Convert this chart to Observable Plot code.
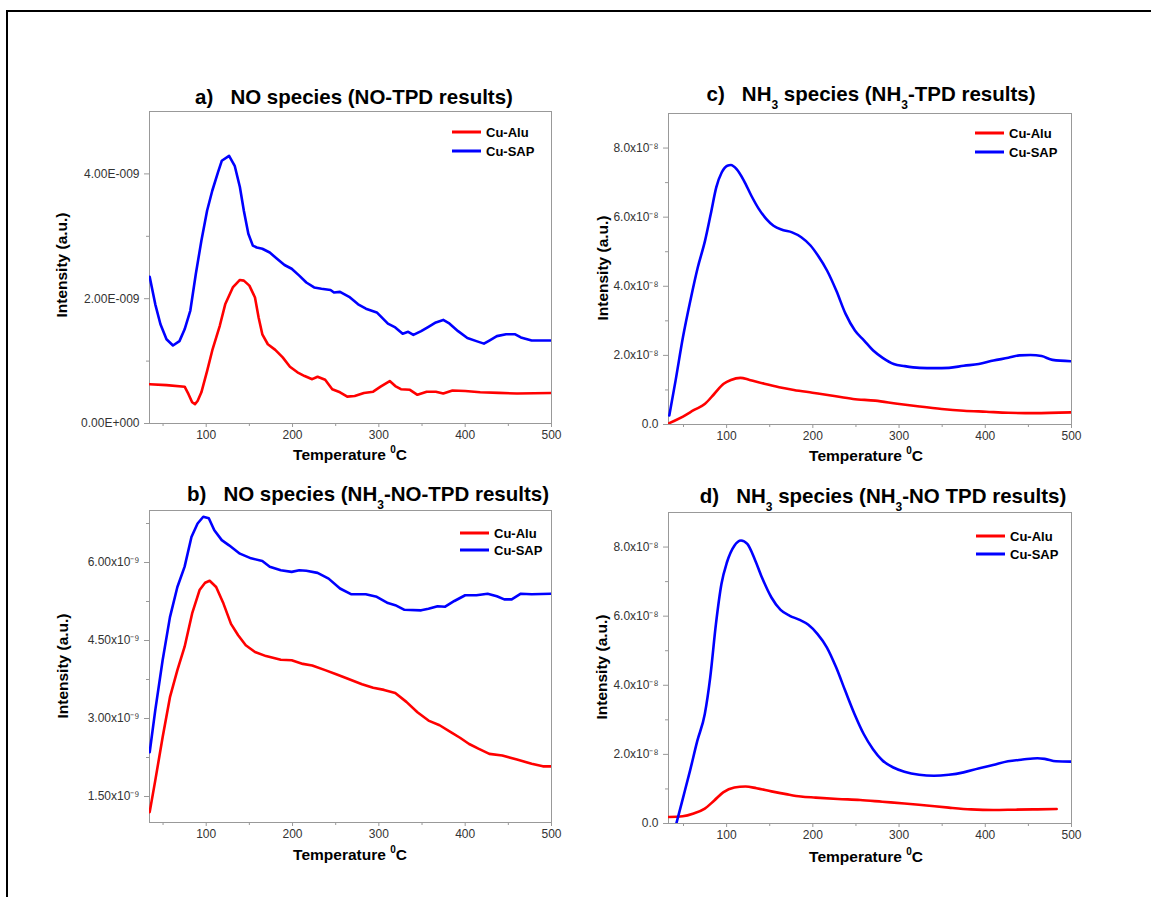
<!DOCTYPE html>
<html><head><meta charset="utf-8">
<script src="https://cdn.jsdelivr.net/npm/d3@7"></script>
<script src="https://cdn.jsdelivr.net/npm/@observablehq/plot@0.6"></script>
<style>
body{margin:0;background:#fff;}
#root{position:relative;width:1151px;height:897px;font-family:Arial,"Liberation Sans",sans-serif;overflow:hidden;background:#fff;}
.abs{position:absolute;}
.title{font-weight:bold;font-size:20.5px;white-space:pre;line-height:22px;color:#000;transform:translate(-50%,-50%);}
.title sub{font-size:12px;vertical-align:-8px;line-height:0;}
.ylab{font-weight:bold;font-size:15.5px;transform:translate(-50%,-50%) rotate(-90deg);white-space:nowrap;}
.xlab{font-weight:bold;font-size:15.5px;transform:translate(-50%,-50%);white-space:nowrap;}
.xlab sup{font-size:10px;vertical-align:7px;line-height:0;}
.leg{font-weight:bold;font-size:13px;white-space:nowrap;transform:translateY(-50%);}
.legline{height:3px;width:29px;transform:translateY(-50%);}
.border{border-top:2px solid #000;border-left:2px solid #000;}
</style></head>
<body><div id="root"></div>
<script>
// ---------- Data ----------
const seriesNames = ["Cu-Alu", "Cu-SAP"];

// a) NO species (NO-TPD results)   intensity in 1e-9
const tA_alu = [34.5,54,75,79.5,83.7,87,90,94.4,101,107,115.8,122,130.8,139,143.6,150,156.5,160.7,165,171.4,180,188.6,197,205.7,214,222.8,229,237.8,246,255,263.4,272,282.7,293.4,302,312.6,319,325.5,336,344.7,355.4,366,374.6,385.3,400,417.4,439,460,500];
const iA_alu = [0.63,0.615,0.59,0.47,0.34,0.31,0.36,0.50,0.84,1.17,1.57,1.91,2.18,2.30,2.29,2.21,2.02,1.70,1.43,1.27,1.18,1.06,0.91,0.82,0.76,0.71,0.75,0.70,0.55,0.50,0.43,0.44,0.49,0.51,0.59,0.68,0.60,0.55,0.54,0.46,0.51,0.51,0.48,0.53,0.52,0.50,0.49,0.48,0.49];
const tA_sap = [34.5,41,47,54,61.5,69,75,81.6,88,94.4,101,107,113.7,118,126.5,133,139,143.6,148.8,154,158.6,165,173.6,182,190.7,199,207.8,216,225,233.5,244,248,255,265.6,276,285,297.6,310.5,319,327.6,334,340,349,357.5,366,374.6,381,391.8,402.5,413,421.7,428,436.7,447.4,458,464.5,477,500];
const iA_sap = [2.35,1.91,1.59,1.35,1.25,1.32,1.51,1.81,2.40,2.93,3.41,3.73,4.03,4.21,4.29,4.13,3.79,3.41,3.04,2.85,2.82,2.80,2.74,2.64,2.54,2.48,2.37,2.26,2.18,2.16,2.14,2.10,2.11,2.03,1.91,1.84,1.78,1.60,1.54,1.44,1.47,1.42,1.48,1.55,1.62,1.66,1.61,1.48,1.37,1.32,1.28,1.33,1.40,1.43,1.43,1.38,1.33,1.33];

// b) NO species (NH3-NO-TPD results)   intensity in 1e-9
const tB_alu = [34.5,41,49.5,58,66.6,75,83.7,92.3,98.7,104,111.5,120,128.7,137,145.8,156.5,169.3,186.4,199,212,222.8,237.8,250.6,263.4,280.5,293.4,306,319,331.9,344.7,357.5,370.4,383.3,394,404.6,415.3,428,443,460,477,490,500];
const iB_alu = [1.20,1.81,2.64,3.41,3.93,4.38,5.02,5.47,5.61,5.65,5.53,5.21,4.82,4.60,4.41,4.28,4.20,4.13,4.12,4.05,4.02,3.93,3.85,3.77,3.66,3.59,3.55,3.49,3.32,3.12,2.96,2.87,2.74,2.63,2.51,2.42,2.32,2.29,2.21,2.13,2.08,2.08];
const tB_sap = [34.5,41,49.5,58,66.6,75,82.9,90,96.6,103,109.4,118,126.5,139,152,165,173.6,186.4,199,207.8,216,229,241.8,255,267.7,284.8,297.6,310.5,319,329.7,349,357.5,368,376.8,387.5,400,413,426,436.7,445.3,453.9,464.5,477,500];
const iB_sap = [2.35,3.16,4.12,4.95,5.53,5.92,6.49,6.75,6.88,6.85,6.62,6.43,6.33,6.17,6.08,6.03,5.92,5.85,5.82,5.85,5.84,5.80,5.69,5.50,5.39,5.39,5.34,5.22,5.18,5.09,5.08,5.11,5.16,5.15,5.26,5.37,5.37,5.40,5.35,5.29,5.29,5.40,5.39,5.40];

// c) NH3 species (NH3-TPD results)   intensity in 1e-8
const tC_alu = [33.5,49.4,62.3,75,85.8,96.6,105,116,126.6,143.7,160.9,178,199.5,221,246.6,272.3,298,323.8,349.5,375,401,426.7,456.7,500];
const iC_alu = [0.04,0.23,0.42,0.60,0.89,1.18,1.29,1.35,1.29,1.18,1.08,1.00,0.92,0.84,0.74,0.69,0.60,0.52,0.45,0.40,0.37,0.34,0.33,0.35];
const tC_sap = [33.5,40.8,49.4,58,66.6,75,81.6,88,94.4,100.8,105,111.6,120,128.7,137.3,145.9,154.4,165,175.9,186.6,197.3,205.9,216.6,227.3,238,248.8,259.5,270,281,293.8,306.6,323.8,341,358,375,392.4,409.5,426.7,439.5,452.4,465.3,478,500];
const iC_sap = [0.26,1.27,2.53,3.59,4.55,5.32,6.09,6.86,7.30,7.49,7.51,7.39,7.06,6.62,6.24,5.95,5.75,5.63,5.56,5.42,5.18,4.89,4.45,3.87,3.20,2.72,2.43,2.14,1.93,1.75,1.69,1.64,1.63,1.64,1.70,1.75,1.85,1.93,2.00,2.01,1.98,1.87,1.83];

// d) NH3 species (NH3-NO TPD results)   intensity in 1e-8
const tD_alu = [33,49,61.8,74.7,85.4,96,109,121.9,134.7,152,169,186,203.3,229,254.8,280.5,306.2,332,357.7,383.4,409,434.8,460.5,482.8];
const iD_alu = [0.19,0.21,0.29,0.43,0.66,0.90,1.04,1.07,1.02,0.93,0.85,0.78,0.75,0.71,0.68,0.63,0.58,0.52,0.46,0.41,0.39,0.40,0.41,0.42];
const tD_sap = [41.7,49,57.6,66,74.7,81,87.6,94,100.4,109,116.7,124,132.6,141,152,162.6,173.3,184,194.8,205.5,216.2,227,237.6,248.3,259,269.8,280.5,293.4,306.2,323.3,340.5,357.7,374.8,392,409,426.3,443.4,460.5,469,482,500];
const iD_sap = [0.0,0.70,1.53,2.39,3.17,4.23,5.77,6.93,7.56,8.04,8.19,8.09,7.65,7.12,6.54,6.18,6.01,5.90,5.75,5.48,5.10,4.52,3.84,3.17,2.59,2.15,1.83,1.62,1.50,1.41,1.38,1.41,1.48,1.59,1.69,1.80,1.85,1.89,1.87,1.80,1.79];

// Tick values and labels
const xTicks = [100, 200, 300, 400, 500];
const xTickLabels = ["100", "200", "300", "400", "500"];
const xMinor = [50, 150, 250, 350, 450];

const yTicksA = [0, 2, 4];
const yLabelsA = ["0.00E+000", "2.00E-009", "4.00E-009"];
const yMinorA = [1, 3];

const yTicksB = [1.5, 3.0, 4.5, 6.0];
const yLabelsB = ["1.50x10\u207B\u2079", "3.00x10\u207B\u2079", "4.50x10\u207B\u2079", "6.00x10\u207B\u2079"];
const yMinorB = [2.25, 3.75, 5.25, 6.75];

const yTicksCD = [0, 2, 4, 6, 8];
const yLabelsCD = ["0.0", "2.0x10\u207B\u2078", "4.0x10\u207B\u2078", "6.0x10\u207B\u2078", "8.0x10\u207B\u2078"];
const yMinorCD = [1, 3, 5, 7];

const titles = [
  "a)   NO species (NO-TPD results)",
  "b)   NO species (NH<sub>3</sub>-NO-TPD results)",
  "c)   NH<sub>3</sub> species (NH<sub>3</sub>-TPD results)",
  "d)   NH<sub>3</sub> species (NH<sub>3</sub>-NO TPD results)"
];
const xAxisLabel = "Temperature <sup>0</sup>C";
const yAxisLabel = "Intensity (a.u.)";

// ---------- Layout ----------
const colors = ["#ff0000", "#0000ff"];
const panels = [
  {title: titles[0], left: 0, top: 60, width: 580, height: 400, mL: 149, mR: 29, mT: 51, mB: 37,
   xDomain: [34.3, 500], yDomain: [0, 5], yTicks: yTicksA, yLabels: yLabelsA, yMinor: yMinorA,
   series: [[tA_alu, iA_alu], [tA_sap, iA_sap]], curve: "linear",
   tX: 354, tY: 97, yl: [62, 265], xl: [350, 455], leg: [452, 132, 151]},
  {title: titles[1], left: 0, top: 460, width: 580, height: 437, mL: 149, mR: 29, mT: 50, mB: 75,
   xDomain: [34.3, 500], yDomain: [1, 7], yTicks: yTicksB, yLabels: yLabelsB, yMinor: yMinorB,
   series: [[tB_alu, iB_alu], [tB_sap, iB_sap]], curve: "linear",
   tX: 368, tY: 494, yl: [63, 666], xl: [350, 855], leg: [460, 533, 550]},
  {title: titles[2], left: 580, top: 60, width: 571, height: 400, mL: 88, mR: 80, mT: 53, mB: 36,
   xDomain: [32.6, 500], yDomain: [0, 9], yTicks: yTicksCD, yLabels: yLabelsCD, yMinor: yMinorCD,
   series: [[tC_alu, iC_alu], [tC_sap, iC_sap]], curve: "monotone-x",
   tX: 871, tY: 94, yl: [603, 268], xl: [866, 456], leg: [975, 133, 152]},
  {title: titles[3], left: 580, top: 460, width: 571, height: 437, mL: 88, mR: 80, mT: 52, mB: 74,
   xDomain: [32.6, 500], yDomain: [0, 9], yTicks: yTicksCD, yLabels: yLabelsCD, yMinor: yMinorCD,
   series: [[tD_alu, iD_alu], [tD_sap, iD_sap]], curve: "monotone-x",
   tX: 883, tY: 496, yl: [602, 667], xl: [866, 857], leg: [976, 536, 554]}
];

const root = document.getElementById("root");
function addDiv(cls, x, y, html, extra) {
  const d = document.createElement("div");
  d.className = "abs " + cls;
  d.style.left = x + "px"; d.style.top = y + "px";
  if (html != null) d.innerHTML = html;
  if (extra) Object.assign(d.style, extra);
  root.appendChild(d);
  return d;
}

// outer border
addDiv("border", 6, 10, null, {width: "1160px", height: "900px"});

for (const p of panels) {
  const lineMarks = p.series.map(([ts, vs], k) => {
    const rows = ts.map((t, i) => ({T: t, I: vs[i]}));
    return Plot.line(rows, {x: "T", y: "I", stroke: colors[k], strokeWidth: 2.6, curve: p.curve, clip: true});
  });
  const chart = Plot.plot({
    width: p.width, height: p.height,
    marginLeft: p.mL, marginRight: p.mR, marginTop: p.mT, marginBottom: p.mB,
    style: {fontFamily: "Arial, 'Liberation Sans', sans-serif", fontSize: "12px", color: "#333", background: "transparent", overflow: "visible"},
    x: {domain: p.xDomain, label: null},
    y: {domain: p.yDomain, label: null},
    marks: [
      Plot.axisX(xTicks, {tickSize: 4, tickPadding: 3, stroke: "#999", label: null,
        tickFormat: d => xTickLabels[xTicks.indexOf(d)]}),
      Plot.axisX(xMinor, {tickSize: 3, stroke: "#999", label: null, tickFormat: () => ""}),
      Plot.axisY(p.yTicks, {tickSize: 5, tickPadding: 5, stroke: "#999", label: null,
        tickFormat: d => p.yLabels[p.yTicks.indexOf(d)]}),
      Plot.axisY(p.yMinor, {tickSize: 3, stroke: "#999", label: null, tickFormat: () => ""}),
      Plot.frame({stroke: "#999", strokeWidth: 1}),
      ...lineMarks
    ]
  });
  chart.style.position = "absolute";
  chart.style.left = p.left + "px";
  chart.style.top = p.top + "px";
  root.appendChild(chart);

  addDiv("title", p.tX, p.tY, p.title);
  addDiv("ylab", p.yl[0], p.yl[1], yAxisLabel);
  addDiv("xlab", p.xl[0], p.xl[1], xAxisLabel);
  // legend
  seriesNames.forEach((name, k) => {
    const y = p.leg[1 + k];
    addDiv("legline", p.leg[0], y, null, {background: colors[k]});
    addDiv("leg", p.leg[0] + 34, y, name);
  });
}
</script>
</body></html>
